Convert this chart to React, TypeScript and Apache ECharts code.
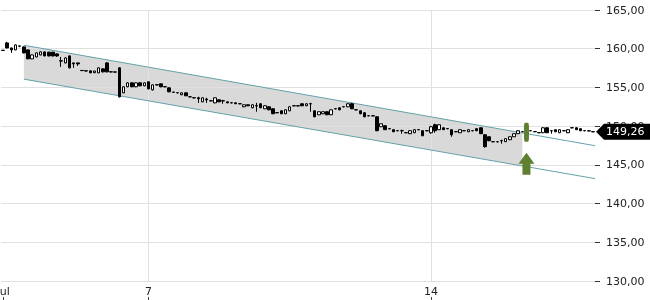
import React, { useEffect, useRef } from 'react';
import * as echarts from 'echarts';

// OHLC per candle (price)
const candleOpen = [
  159.80, 160.75, 160.10, 159.85, 160.36, 160.23, 159.85, 158.69, 158.94, 159.20,
  159.59, 159.55, 159.55, 159.33, 158.45, 158.17, 159.07, 158.17, 158.17, 157.20,
  157.15, 157.14, 156.90, 156.88, 157.40, 158.17, 157.02, 157.00, 157.53, 154.30,
  155.08, 155.59, 155.08, 155.59, 155.21, 155.72, 154.69, 155.35, 155.46, 155.10,
  154.95, 154.40, 154.32, 154.05, 154.30, 153.80, 153.67, 153.66, 153.14, 153.50,
  153.28, 153.01, 153.40, 153.28, 153.14, 153.02, 153.01, 152.90, 152.50, 152.76,
  152.37, 152.65, 152.89, 152.24, 152.50, 152.24, 151.75, 151.98, 151.60, 151.98,
  152.64, 152.63, 152.89, 152.63, 152.90, 151.98, 151.47, 151.60, 151.86, 151.47,
  152.25, 152.37, 152.51, 152.50, 152.89, 152.12, 151.98, 151.73, 151.35, 151.34,
  151.21, 149.92, 150.05, 149.68, 149.54, 149.42, 149.42, 149.16, 149.02, 149.15,
  149.55, 149.41, 149.42, 149.15, 150.18, 149.54, 149.79, 149.68, 149.54, 149.29,
  149.15, 149.42, 149.28, 149.42, 149.67, 149.79, 148.89, 148.63, 148.00, 147.99,
  148.13, 147.99, 148.25, 148.63, 149.02, 149.28, 149.15, 149.42, 149.30, 149.17,
  149.15, 149.79, 149.42, 149.54, 149.15, 149.42, 149.15, 149.78, 149.79, 149.67,
  149.42, 149.40, 149.30,
];
const candleClose = [
  159.78, 160.10, 159.85, 160.49, 160.33, 159.46, 158.69, 159.20, 159.46, 159.59,
  159.07, 159.07, 159.07, 159.07, 158.40, 158.81, 157.53, 158.04, 158.04, 157.17,
  157.12, 156.88, 157.12, 157.53, 157.01, 157.01, 157.00, 156.98, 153.79, 155.08,
  155.59, 155.08, 155.59, 155.21, 155.59, 154.82, 155.33, 155.32, 155.08, 155.07,
  154.43, 154.37, 154.30, 154.30, 153.92, 153.78, 153.65, 153.55, 153.66, 153.40,
  153.26, 153.66, 153.14, 153.25, 153.01, 153.00, 152.89, 152.88, 152.76, 152.63,
  152.76, 152.60, 152.37, 152.63, 152.11, 151.60, 151.72, 151.60, 152.11, 152.50,
  152.62, 152.61, 152.63, 152.89, 152.87, 151.21, 151.86, 151.86, 151.47, 152.11,
  152.23, 152.11, 152.49, 152.89, 152.24, 152.10, 151.60, 151.21, 151.33, 151.32,
  149.41, 150.31, 149.54, 149.66, 149.28, 149.40, 149.40, 149.14, 149.41, 149.54,
  149.53, 148.76, 149.40, 149.92, 149.41, 150.18, 149.54, 149.66, 148.89, 149.27,
  149.54, 149.40, 149.54, 149.40, 149.41, 149.02, 147.35, 148.12, 147.98, 147.97,
  148.10, 148.38, 148.63, 149.02, 149.41, 149.30, 149.41, 149.40, 149.28, 149.14,
  149.79, 149.15, 149.39, 149.28, 149.54, 149.40, 149.54, 149.80, 149.54, 149.41,
  149.40, 149.38, 149.26,
];
const candleLow = [
  159.75, 160.05, 159.46, 159.80, 160.20, 159.40, 158.65, 158.65, 158.90, 159.15,
  159.02, 159.02, 159.00, 158.95, 157.65, 158.10, 157.45, 157.53, 157.78, 157.12,
  157.08, 156.85, 156.85, 156.85, 156.95, 156.95, 156.95, 156.95, 153.70, 154.25,
  155.02, 155.02, 155.02, 155.15, 155.15, 154.75, 154.60, 155.28, 155.02, 155.02,
  154.38, 154.32, 154.25, 154.00, 153.88, 153.72, 153.60, 153.01, 153.10, 153.01,
  153.22, 152.96, 153.10, 152.89, 152.96, 152.95, 152.85, 152.84, 152.45, 152.58,
  152.32, 151.86, 152.32, 152.20, 152.05, 151.55, 151.68, 151.55, 151.55, 151.93,
  152.58, 152.57, 152.58, 152.58, 151.86, 151.15, 151.42, 151.55, 151.42, 151.42,
  152.18, 152.05, 152.45, 152.45, 152.20, 152.05, 151.55, 151.15, 151.28, 151.28,
  149.35, 149.88, 149.50, 149.60, 149.22, 149.35, 149.02, 149.10, 148.98, 149.10,
  149.48, 148.70, 149.35, 149.02, 149.15, 149.50, 149.50, 149.62, 148.63, 149.22,
  149.10, 149.35, 149.22, 149.35, 149.35, 148.98, 147.22, 148.05, 147.93, 147.92,
  147.73, 147.95, 148.20, 148.58, 148.98, 149.22, 149.10, 149.35, 149.22, 149.10,
  149.10, 149.10, 149.02, 149.22, 149.10, 149.35, 149.10, 149.72, 149.50, 149.35,
  149.35, 149.33, 149.22,
];
const candleHigh = [
  159.83, 160.88, 160.15, 160.55, 160.40, 160.30, 159.90, 159.25, 159.50, 159.65,
  159.62, 159.60, 159.60, 159.40, 158.94, 158.90, 159.15, 158.20, 158.20, 157.25,
  157.20, 157.18, 157.15, 157.58, 157.45, 158.25, 157.05, 157.05, 157.60, 155.15,
  155.65, 155.65, 155.65, 155.65, 155.65, 155.78, 155.40, 155.40, 155.50, 155.12,
  155.00, 154.42, 154.35, 154.35, 154.35, 153.83, 153.70, 153.79, 153.70, 153.66,
  153.30, 153.70, 153.45, 153.40, 153.18, 153.05, 153.05, 152.93, 152.80, 152.80,
  152.80, 153.01, 152.95, 152.68, 152.55, 152.30, 151.78, 152.02, 152.15, 152.55,
  152.68, 152.67, 152.93, 152.93, 153.01, 152.02, 151.90, 151.90, 151.90, 152.15,
  152.28, 152.42, 152.55, 152.93, 153.01, 152.15, 152.02, 151.78, 151.38, 151.38,
  151.25, 150.35, 150.10, 149.70, 149.58, 149.45, 149.54, 149.20, 149.45, 149.58,
  149.58, 149.45, 149.45, 150.05, 150.31, 150.22, 149.83, 149.72, 149.58, 149.32,
  149.58, 149.45, 149.58, 149.45, 149.70, 149.83, 148.95, 148.68, 148.03, 148.02,
  148.25, 148.42, 148.68, 149.06, 149.45, 149.35, 149.45, 149.45, 149.33, 149.20,
  149.85, 149.85, 149.45, 149.58, 149.58, 149.45, 149.58, 149.85, 149.83, 149.70,
  149.45, 149.43, 149.32,
];

// x-axis tick labels (candle index -> text)
const tickIndex = [0, 35, 103];
const tickText = ['Jul', '7', '14'];

// y-axis
const yMin = 130;
const yMax = 165;
const yStep = 5;

// trend channel (start/end candle index, upper and lower prices)
const channelIndex = [5, 142];
const channelUpper = [160.45, 147.52];
const channelLower = [156.07, 143.27];
const bandEndIndex = 125;

// signal marker
const markerIndex = 126;
const markerValue = 149.21;
const arrowValue = 145.15;

const lastPrice = 149.26;

const GREEN = '#5f7f31';
const TEAL = '#62a2aa';
const FONT = 'DejaVu Sans';

const fmt = (v: number) => v.toFixed(2).replace('.', ',');

export default function App() {
  const ref = useRef<HTMLDivElement>(null);
  useEffect(() => {
    if (!ref.current) return;
    const chart = echarts.init(ref.current, null, { renderer: 'svg' });
    const categories = candleOpen.map((_, i) => String(i));
    const candles = candleOpen.map((o, i) => [o, candleClose[i], candleLow[i], candleHigh[i]]);
    const showTick = (idx: number) => tickIndex.includes(idx);

    const option: any = {
      animation: false,
      grid: { left: 1, right: 55, top: 10, bottom: 19, containLabel: false, outerBoundsMode: 'none' },
      xAxis: [
        {
          type: 'category',
          data: categories,
          boundaryGap: true,
          axisLine: { show: false },
          axisTick: { show: false },
          axisLabel: {
            interval: (idx: number) => showTick(idx),
            formatter: (_v: string, idx: number) => {
              const k = tickIndex.indexOf(idx);
              return k >= 0 ? tickText[k] : '';
            },
            color: '#222',
            fontSize: 11,
            fontFamily: FONT,
            margin: 5,
            showMinLabel: true,
          },
          splitLine: {
            show: true,
            alignWithLabel: true,
            interval: (idx: number) => idx === tickIndex[1] || idx === tickIndex[2],
            lineStyle: { color: '#e0e0e0', width: 1 },
          },
        },
        {
          type: 'category',
          data: categories,
          position: 'bottom',
          offset: 16,
          axisLine: { show: false },
          axisTick: {
            show: true,
            alignWithLabel: true,
            interval: (idx: number) => showTick(idx),
            length: 3,
            lineStyle: { color: '#444' },
          },
          axisLabel: { show: false },
          splitLine: { show: false },
        },
      ],
      yAxis: {
        type: 'value',
        position: 'right',
        min: yMin,
        max: yMax,
        interval: yStep,
        axisLine: { show: false },
        axisTick: { show: true, length: 5, lineStyle: { color: '#333' } },
        axisLabel: {
          formatter: (v: number) => fmt(v),
          color: '#222',
          fontSize: 11,
          fontFamily: FONT,
          margin: 11,
        },
        splitLine: { show: true, lineStyle: { color: '#e0e0e0', width: 1 } },
      },
      series: [
        {
          type: 'custom',
          z: -1,
          silent: true,
          encode: { x: [0, 3, 6], y: [1, 2, 4, 5] },
          data: [[channelIndex[0], channelUpper[0], channelLower[0], channelIndex[1], channelUpper[1], channelLower[1], bandEndIndex]],
          renderItem: (params: any, api: any) => {
            const u0 = api.coord([api.value(0), api.value(1)]);
            const l0 = api.coord([api.value(0), api.value(2)]);
            const u1 = api.coord([api.value(3), api.value(4)]);
            const l1 = api.coord([api.value(3), api.value(5)]);
            const bx = api.coord([api.value(6), api.value(1)])[0];
            const at = (a: number[], b: number[], x: number) => a[1] + ((b[1] - a[1]) * (x - a[0])) / (b[0] - a[0]);
            return {
              type: 'polygon',
              shape: { points: [u0, [bx, at(u0, u1, bx)], [bx, at(l0, l1, bx)], l0] },
              style: { fill: '#d9d9d9', stroke: 'none' },
            };
          },
        },
        {
          type: 'custom',
          z: 3,
          silent: true,
          clip: false,
          encode: { x: [0, 3], y: [1, 2, 4, 5] },
          data: [[channelIndex[0], channelUpper[0], channelLower[0], channelIndex[1], channelUpper[1], channelLower[1]]],
          renderItem: (params: any, api: any) => {
            const cs = params.coordSys;
            const xr = cs.x + cs.width;
            const u0 = api.coord([api.value(0), api.value(1)]);
            const l0 = api.coord([api.value(0), api.value(2)]);
            const u1 = api.coord([api.value(3), api.value(4)]);
            const l1 = api.coord([api.value(3), api.value(5)]);
            const at = (a: number[], b: number[], x: number) => a[1] + ((b[1] - a[1]) * (x - a[0])) / (b[0] - a[0]);
            const st = { stroke: TEAL, lineWidth: 1, fill: 'none' };
            return {
              type: 'group',
              children: [
                { type: 'line', shape: { x1: u0[0], y1: u0[1], x2: xr, y2: at(u0, u1, xr) }, style: st },
                { type: 'line', shape: { x1: l0[0], y1: l0[1], x2: xr, y2: at(l0, l1, xr) }, style: st },
              ],
            };
          },
        },
        {
          type: 'candlestick',
          z: 4,
          barWidth: 3,
          data: candles,
          itemStyle: {
            color: '#ffffff',
            color0: '#000000',
            borderColor: '#000000',
            borderColor0: '#000000',
            borderWidth: 1,
          },
          markPoint: {
            label: { show: false },
            silent: true,
            data: [
              {
                coord: [markerIndex, markerValue],
                symbol: 'roundRect',
                symbolSize: [5, 19],
                itemStyle: { color: GREEN },
              },
              {
                coord: [markerIndex, arrowValue],
                symbol: 'path://M8,0 L16,11 L12,11 L12,22 L4,22 L4,11 L0,11 Z',
                symbolSize: [16, 22],
                itemStyle: { color: GREEN },
              },
            ],
          },
        },
        {
          type: 'custom',
          z: 10,
          silent: true,
          clip: false,
          encode: { x: 0, y: 1 },
          data: [[candleOpen.length - 1, lastPrice]],
          renderItem: (params: any, api: any) => {
            const cs = params.coordSys;
            const x0 = cs.x + cs.width;
            const y = api.coord([api.value(0), api.value(1)])[1];
            return {
              type: 'group',
              children: [
                {
                  type: 'polygon',
                  shape: {
                    points: [
                      [x0 + 1, y],
                      [x0 + 9, y - 8],
                      [x0 + 55, y - 8],
                      [x0 + 55, y + 8],
                      [x0 + 9, y + 8],
                    ],
                  },
                  style: { fill: '#000' },
                },
                {
                  type: 'text',
                  x: x0 + 11,
                  y: y,
                  style: {
                    text: fmt(api.value(1)),
                    fill: '#fff',
                    font: `11px "${FONT}"`,
                    align: 'left',
                    verticalAlign: 'middle',
                  },
                },
              ],
            };
          },
        },
      ],
    };
    chart.setOption(option);
    return () => chart.dispose();
  }, []);
  return <div ref={ref} style={{ position: 'fixed', left: 0, top: 0, width: 650, height: 300 }} />;
}
